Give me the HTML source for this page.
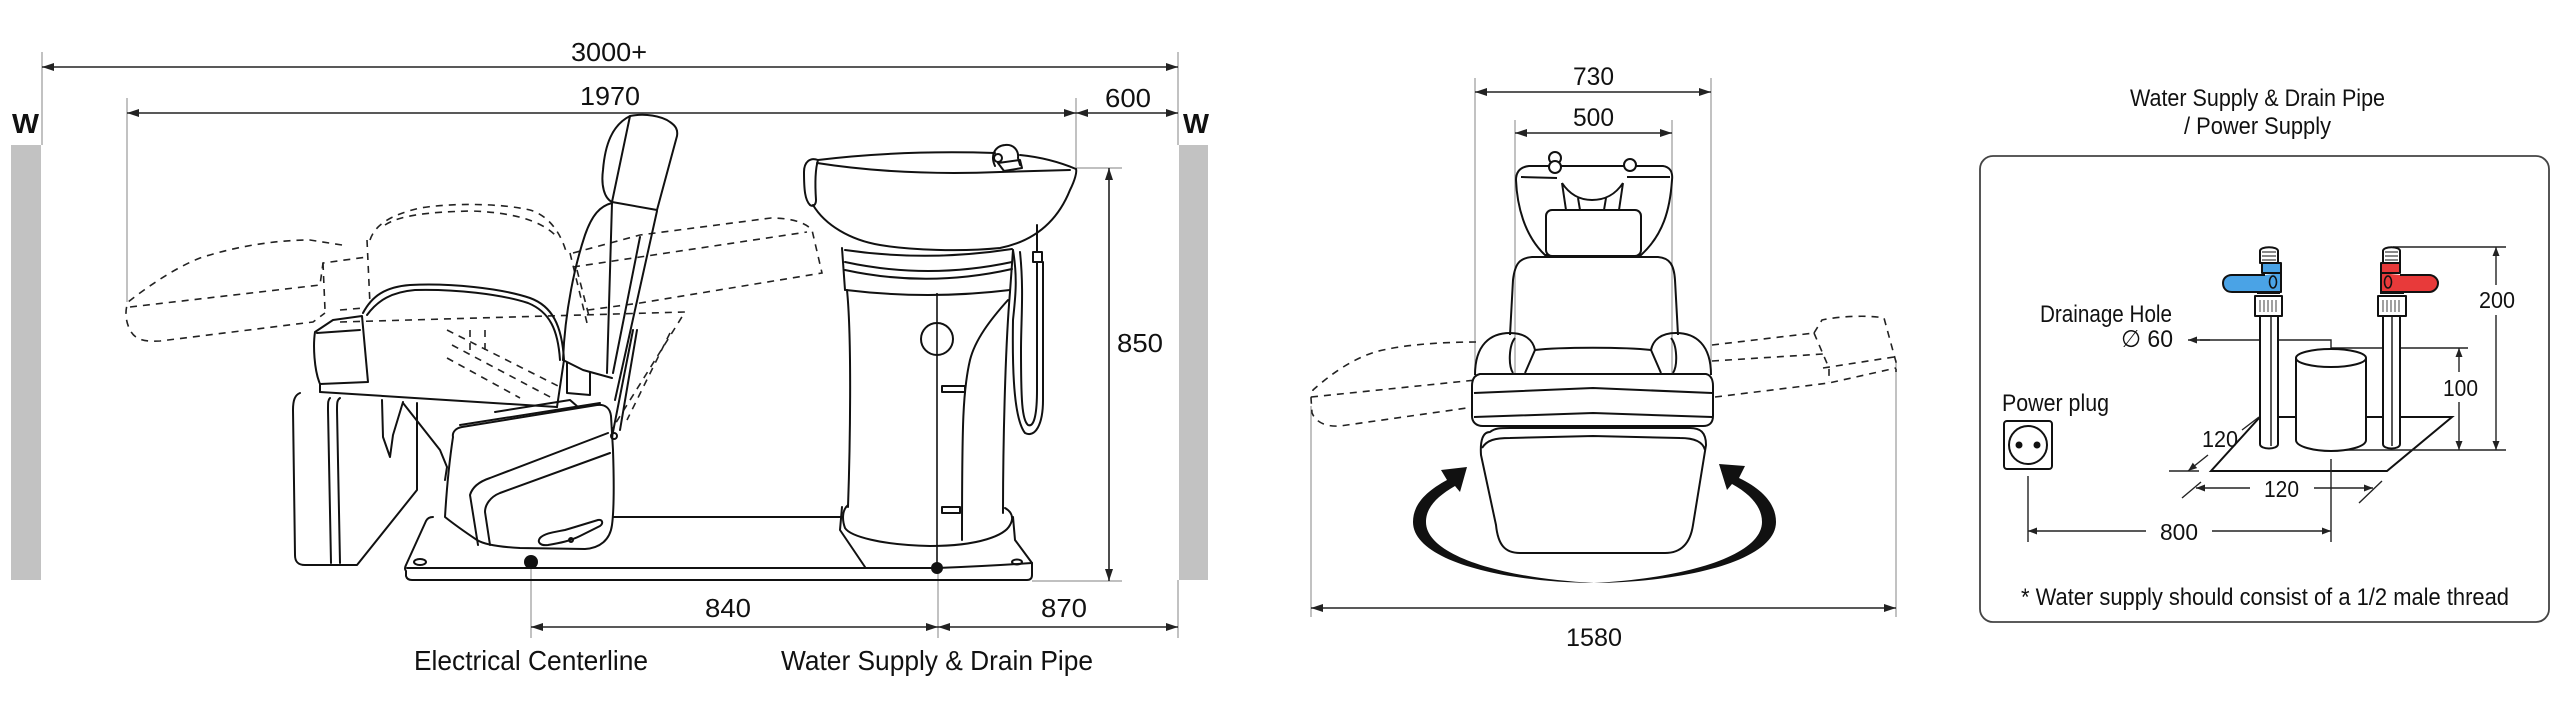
<!DOCTYPE html>
<html><head><meta charset="utf-8"><style>
html,body{margin:0;padding:0;background:#fff;}
svg{display:block;}
text{font-family:"Liberation Sans","DejaVu Sans",sans-serif;fill:#111;}
</style></head><body>
<svg width="2560" height="714" viewBox="0 0 2560 714" xmlns="http://www.w3.org/2000/svg">
<defs>
<marker id="a" viewBox="0 0 12 8" refX="12" refY="4" markerWidth="12" markerHeight="8" markerUnits="userSpaceOnUse" orient="auto-start-reverse"><path d="M0,0 L12,4 L0,8 Z" fill="#222"/></marker>
<marker id="s" viewBox="0 0 9 7" refX="9" refY="3.5" markerWidth="9" markerHeight="7" markerUnits="userSpaceOnUse" orient="auto-start-reverse"><path d="M0,0 L9,3.5 L0,7 Z" fill="#222"/></marker>
</defs>
<rect width="2560" height="714" fill="#fff"/>

<!-- ===== LEFT SIDE VIEW ===== -->
<rect x="11" y="145" width="30" height="435" fill="#c2c2c2"/>
<rect x="1179" y="145" width="29" height="435" fill="#c2c2c2"/>
<text x="12" y="133" font-size="28" font-weight="bold" textLength="27" lengthAdjust="spacingAndGlyphs">W</text>
<text x="1183" y="133" font-size="28" font-weight="bold" textLength="26" lengthAdjust="spacingAndGlyphs">W</text>

<g stroke="#9a9a9a" stroke-width="1.2" fill="none">
<path d="M42,52 V145 M1178,52 V145 M127,98 V302 M1076,98 V168 M1076,168 H1122 M1032,581 H1122 M531,562 V638 M938,568 V638 M1178,580 V638"/>
</g>
<g stroke="#222" stroke-width="1.6" fill="none">
<line x1="42" y1="67" x2="1178" y2="67" marker-start="url(#a)" marker-end="url(#a)"/>
<line x1="127" y1="113" x2="1076" y2="113" marker-start="url(#a)" marker-end="url(#a)"/>
<line x1="1076" y1="113" x2="1178" y2="113" marker-start="url(#a)" marker-end="url(#a)"/>
<line x1="1109" y1="168" x2="1109" y2="581" marker-start="url(#a)" marker-end="url(#a)"/>
<line x1="531" y1="627" x2="938" y2="627" marker-start="url(#a)" marker-end="url(#a)"/>
<line x1="938" y1="627" x2="1178" y2="627" marker-start="url(#a)" marker-end="url(#a)"/>
</g>
<text x="571" y="61" font-size="26" textLength="76" lengthAdjust="spacingAndGlyphs">3000+</text>
<text x="580" y="105" font-size="26" textLength="60" lengthAdjust="spacingAndGlyphs">1970</text>
<text x="1105" y="107" font-size="26" textLength="46" lengthAdjust="spacingAndGlyphs">600</text>
<text x="1117" y="352" font-size="26" textLength="46" lengthAdjust="spacingAndGlyphs">850</text>
<text x="705" y="617" font-size="26" textLength="46" lengthAdjust="spacingAndGlyphs">840</text>
<text x="1041" y="617" font-size="26" textLength="46" lengthAdjust="spacingAndGlyphs">870</text>
<text x="414" y="670" font-size="28" textLength="234" lengthAdjust="spacingAndGlyphs">Electrical Centerline</text>
<text x="781" y="670" font-size="28" textLength="312" lengthAdjust="spacingAndGlyphs">Water Supply &amp; Drain Pipe</text>

<!-- ghost dashed recline -->
<g stroke="#222" stroke-width="1.6" fill="none" stroke-dasharray="7,6">
<path d="M342,245 L310,240 C280,240 240,245 200,258 C175,268 150,285 128,302 C125,310 125,320 130,330 C135,340 145,342 160,341 L313,322 L325,313"/>
<path d="M130,307 L320,285 L323,263 L367,257"/>
<path d="M323,263 L325,310 M367,240 L370,305 M340,310 L363,308"/>
<path d="M370,240 C375,225 390,215 420,208 C450,203 500,203 530,210 C550,216 562,235 567,255"/>
<path d="M385,225 C400,215 430,212 470,211 C510,212 540,220 555,235"/>
<path d="M340,322 L685,312 L607,437"/>
<path d="M670,333 L627,420"/>
<path d="M447,330 L560,387 M452,345 L552,398 M447,358 L520,398 M470,330 L470,350 M485,330 L485,350"/>
<path d="M570,253 L587,323 M577,270 L590,320"/>
<path d="M573,253 L640,235 L771,218 C790,218 805,222 812,230 L822,273 L640,303 L588,310"/>
<path d="M573,267 L640,257 L807,232"/>
</g>

<g stroke="#111" stroke-width="2" fill="none" stroke-linejoin="round" stroke-linecap="round">
<!-- base plate -->
<path d="M433,517 Q428,517 426,521 L406,565 Q404,569 406,571 L406,576 Q407,580 412,580 L1027,580 Q1032,580 1032,575 L1032,563"/>
<path d="M407,568 L937,568 Q990,566 1032,563"/>
<path d="M613,517 L842,517"/>
<ellipse cx="420" cy="562" rx="6" ry="3"/>
<ellipse cx="1017" cy="562" rx="5" ry="2.5"/>
<!-- housing -->
<path d="M453,437 C452,432 456,428 462,427 L597,405 C605,404 610,408 611,416 L613,450 C614,480 614,510 612,525 C610,540 600,548 585,549 L520,548 C500,547 485,545 477,540 C465,532 455,525 445,517 C446,500 448,470 453,437 Z" fill="#fff"/>
<path d="M460,425 L600,403 M495,412 L570,400 L578,407"/>
<path d="M608,433 L490,478 C478,482 472,488 470,495 L478,545"/>
<path d="M610,453 L500,493 C490,497 485,505 485,512 L490,545"/>
<path d="M540,538 C545,533 555,532 565,530 L575,527 L598,520 C602,519 604,523 600,526 L580,536 C570,541 560,543 548,545 C540,546 537,542 540,538 Z"/>
<circle cx="571" cy="540" r="2"/>
<!-- leg rest -->
<path d="M300,393 C295,395 293,400 293,410 L295,555 C295,562 298,565 305,565 L357,565 L417,490 L417,403"/>
<path d="M330,398 C328,400 328,402 328,410 L331,563 M340,398 C337,400 337,403 337,410 L340,563"/>
<path d="M382,400 L383,437 L390,457 L393,435 L403,402 M403,403 L440,450 L447,467 L445,480"/>
<!-- seat -->
<path d="M363,313 C372,296 385,287 410,285 C450,283 500,288 530,298 C552,306 562,325 564,360 L557,407"/>
<path d="M367,315 C378,300 392,292 415,290 C455,289 500,294 528,303 C550,312 558,330 560,360"/>
<path d="M320,392 L557,407"/>
<path d="M320,392 L320,384 C314,370 313,345 315,332 L333,320 L362,316 L368,382 L320,384 M317,333 L360,330"/>
<!-- headrest/backrest -->
<path d="M612,202 C604,198 601,185 603,170 C605,145 612,125 630,116 C645,113 662,116 670,122 C676,126 678,130 677,136 L657,210 Z"/>
<path d="M630,116 L612,202"/>
<path d="M612,203 C600,206 592,215 585,235 C575,265 565,310 563,360"/>
<path d="M657,211 L615,400 M612,203 L607,373 M640,237 L613,373"/>
<path d="M563,360 L583,370 L612,378 M567,363 L567,393 L590,395 L590,372"/>
<path d="M612,437 L633,330 M620,430 L637,330"/>
<circle cx="614" cy="436" r="3"/>
<!-- pedestal basin -->
<path d="M818,160 C810,157 804,162 804,172 C804,190 805,200 810,205 C813,207 816,205 816,200 C815,185 815,170 818,160 Z"/>
<path d="M818,160 Q900,150 995,153 M1020,155 Q1050,158 1076,169"/>
<path d="M817,163 Q900,176 1000,172 L1070,170"/>
<path d="M813,205 C825,225 850,240 880,245 C910,250 960,252 1000,248 C1040,240 1060,215 1070,190 C1075,180 1077,172 1076,169"/>
<path d="M995,166 C990,155 995,146 1005,145 C1013,144 1019,150 1018,158 L1020,165 M998,163 L1020,160 L1022,168 L1004,171 Z"/>
<circle cx="998" cy="158" r="4"/>
<path d="M842,248 L845,290 M1013,250 L1010,292"/>
<path d="M845,250 Q928,262 1012,249 M845,262 Q928,280 1012,262 M845,270 Q928,288 1012,269 M846,290 Q928,300 1010,290"/>
<path d="M847,290 C852,340 850,450 848,507 M1010,292 C1005,350 1003,450 1003,513"/>
<path d="M1008,300 C990,320 975,340 970,360 C963,390 962,420 962,540"/>
<circle cx="937" cy="339" r="16"/>
<path d="M942,386 L965,386 L965,392 L942,392 Z M942,507 L960,507 L960,513 L942,513 Z"/>
<path d="M848,505 C842,510 842,520 845,528 C850,536 880,545 930,546 C980,546 1005,535 1010,525 C1014,518 1012,512 1005,508"/>
<path d="M842,507 L840,530 L865,567 M1013,517 L1015,540 L1032,563"/>
<path d="M1013,250 C1018,280 1015,300 1013,320 C1012,380 1015,420 1025,433 C1035,438 1043,425 1043,400 L1043,262"/>
<path d="M1020,252 C1024,290 1021,320 1021,350 C1021,400 1022,420 1028,425 C1035,428 1037,410 1037,390 L1037,262"/>
<path d="M1033,252 L1042,252 L1042,262 L1033,262 Z M1037,225 L1037,252"/>
</g>
<line x1="937" y1="293" x2="937" y2="568" stroke="#111" stroke-width="1.6"/>
<circle cx="937" cy="568" r="6" fill="#111"/>
<circle cx="531" cy="562" r="7" fill="#111"/>

<!-- ===== CENTER TOP VIEW ===== -->
<g stroke="#9a9a9a" stroke-width="1.2" fill="none">
<path d="M1475,78 V372 M1711,78 V372 M1515,120 V375 M1672,120 V375 M1311,406 V617 M1896,360 V617"/>
</g>
<g stroke="#222" stroke-width="1.6" fill="none">
<line x1="1475" y1="92" x2="1711" y2="92" marker-start="url(#a)" marker-end="url(#a)"/>
<line x1="1515" y1="133" x2="1672" y2="133" marker-start="url(#a)" marker-end="url(#a)"/>
<line x1="1311" y1="608" x2="1896" y2="608" marker-start="url(#a)" marker-end="url(#a)"/>
</g>
<text x="1573" y="85" font-size="25" textLength="41" lengthAdjust="spacingAndGlyphs">730</text>
<text x="1573" y="126" font-size="25" textLength="41" lengthAdjust="spacingAndGlyphs">500</text>
<text x="1566" y="646" font-size="25" textLength="56" lengthAdjust="spacingAndGlyphs">1580</text>

<g stroke="#222" stroke-width="1.6" fill="none" stroke-dasharray="7,6">
<path d="M1476,342 C1440,342 1400,345 1375,352 C1350,360 1330,375 1313,390 L1311,398 L1312,413 C1316,422 1325,427 1340,426 L1474,407"/>
<path d="M1311,397 L1476,380"/>
<path d="M1712,345 L1814,333 M1814,333 L1822,320 C1840,316 1870,315 1884,318 L1896,362 L1896,372 M1814,333 L1829,368 L1829,382 M1712,361 L1823,354 M1823,368 L1894,357 M1715,397 L1829,383 L1896,368"/>
</g>
<g stroke="#111" stroke-width="2" fill="none" stroke-linejoin="round">
<path d="M1529,166 L1663,166 C1670,167 1673,172 1672,180 C1670,210 1663,235 1641,255 L1545,255 C1524,235 1517,205 1516,180 C1516,172 1520,167 1529,166 Z" fill="#fff"/>
<path d="M1521,177 L1557,178 M1627,177 L1670,177"/>
<path d="M1562,183 C1570,195 1580,200 1592,200 C1605,200 1615,195 1623,183 M1562,183 L1566,210 M1623,183 L1619,210 M1578,198 L1580,210 M1606,198 L1604,210"/>
<circle cx="1555" cy="158" r="6" fill="#fff"/><circle cx="1555" cy="167" r="6" fill="#fff"/>
<circle cx="1630" cy="165" r="6" fill="#fff"/>
<rect x="1546" y="210" width="95" height="46" rx="6" fill="#fff"/>
<path d="M1510,335 L1513,280 C1515,263 1520,258 1532,257 L1658,257 C1670,258 1674,265 1675,280 L1678,335"/>
<path d="M1475,375 C1475,345 1490,333 1510,333 C1525,333 1533,340 1535,350 L1525,373 M1515,338 C1509,345 1508,365 1513,373"/>
<path d="M1711,375 C1711,345 1696,333 1676,333 C1661,333 1653,340 1651,350 L1661,373 M1671,338 C1677,345 1678,365 1673,373"/>
<path d="M1535,350 C1560,347 1625,347 1651,350"/>
<path d="M1480,374 L1706,374 C1711,375 1713,380 1713,386 L1713,416 C1713,423 1709,426 1703,426 L1483,426 C1476,426 1472,422 1472,416 L1472,386 C1472,379 1475,375 1480,374 Z" fill="#fff"/>
<path d="M1474,393 L1593,388 L1712,393 M1474,417 L1593,413 L1712,417"/>
<path d="M1490,432 C1495,428 1500,428 1510,428 L1690,428 C1700,428 1706,432 1706,445 L1693,525 C1690,545 1680,553 1665,553 L1520,553 C1505,553 1498,545 1496,525 L1481,455 C1480,440 1483,432 1490,432 Z" fill="#fff"/>
<path d="M1482,448 C1487,440 1495,438 1510,438 L1593,436 L1680,438 C1695,438 1703,442 1705,450"/>
</g>
<!-- rotation arrows -->
<path d="M1594,583 C1500,582 1413,560 1413,522 C1413,505 1425,492 1447,480 L1441,470 L1467,467 L1460,492 L1455,486 C1436,497 1426,508 1426,522 C1426,555 1500,578 1594,583 Z" fill="#111"/>
<path d="M1594,583 C1688,582 1776,560 1776,522 C1776,505 1764,490 1739,478 L1745,466 L1719,464 L1727,490 L1732,484 C1752,495 1762,508 1762,522 C1762,555 1688,578 1594,583 Z" fill="#111"/>

<!-- ===== RIGHT BOX ===== -->
<text x="2130" y="106" font-size="24" textLength="255" lengthAdjust="spacingAndGlyphs">Water Supply &amp; Drain Pipe</text>
<text x="2184" y="134" font-size="24" textLength="147" lengthAdjust="spacingAndGlyphs">/ Power Supply</text>
<rect x="1980" y="156" width="569" height="466" rx="13" fill="none" stroke="#444" stroke-width="1.8"/>

<!-- floor -->
<path d="M2260,417 L2452,417 L2387,471 L2211,471 Z" fill="none" stroke="#111" stroke-width="2"/>
<!-- dims lines -->
<g stroke="#222" stroke-width="1.4" fill="none">
<path d="M2393,247 H2506 M2331,348 H2468 M2343,450 H2506 M2169,471 H2199"/>
<path d="M2331,459 V542 M2028,476 V542"/>
<path d="M2182,498 L2201,482 M2359,503 L2382,481 M2259,417 L2242,430"/>
<line x1="2496" y1="285" x2="2496" y2="247" marker-end="url(#s)"/>
<line x1="2496" y1="315" x2="2496" y2="450" marker-end="url(#s)"/>
<line x1="2459" y1="372" x2="2459" y2="348" marker-end="url(#s)"/>
<line x1="2459" y1="402" x2="2459" y2="450" marker-end="url(#s)"/>
<line x1="2208" y1="455" x2="2188" y2="471" marker-end="url(#s)"/>
<line x1="2250" y1="488" x2="2196" y2="488" marker-end="url(#s)"/>
<line x1="2314" y1="488" x2="2373" y2="488" marker-end="url(#s)"/>
<line x1="2146" y1="531" x2="2028" y2="531" marker-end="url(#s)"/>
<line x1="2212" y1="531" x2="2331" y2="531" marker-end="url(#s)"/>
<path d="M2331,363 V340 H2200"/>
<line x1="2210" y1="340" x2="2188" y2="340" marker-end="url(#s)"/>
</g>
<g stroke="#111" stroke-width="2" stroke-linejoin="round">
<!-- cylinder -->
<path d="M2296,358 L2296,440 C2296,447 2315,451 2331,451 C2347,451 2366,447 2366,440 L2366,358" fill="#fff"/>
<ellipse cx="2331" cy="358" rx="35" ry="9" fill="#fff"/>
<!-- left pipe -->
<path d="M2260,317 L2260,444 C2260,450 2278,450 2278,444 L2278,317" fill="#fff"/>
<path d="M2271,317 L2271,446" fill="none" stroke-width="1.4"/>
<path d="M2260,263 L2260,251 C2260,246 2278,246 2278,251 L2278,263 Z" fill="#fff"/>
<path d="M2262,252 H2276 M2262,256 H2276 M2262,260 H2276" stroke-width="1"/>
<path d="M2265,275 L2232,275 C2226,275 2223,279 2223,283 C2223,288 2226,292 2232,292 L2265,292 L2281,292 L2281,273 L2262,273 L2262,263 L2281,263 L2281,273" fill="#4aa3e6"/>
<ellipse cx="2273" cy="282" rx="3.5" ry="6" fill="none" stroke-width="1.6"/>
<path d="M2255,296 L2282,296 L2282,316 L2255,316 Z M2257,293 L2280,293" fill="#fff"/>
<path d="M2260,300 V312 M2264,300 V312 M2268,300 V312 M2272,300 V312 M2276,300 V312" stroke-width="0.8"/>
<!-- right pipe -->
<path d="M2383,317 L2383,444 C2383,450 2400,450 2400,444 L2400,317" fill="#fff"/>
<path d="M2392,317 L2392,446" fill="none" stroke-width="1.4"/>
<path d="M2383,263 L2383,251 C2383,246 2400,246 2400,251 L2400,263 Z" fill="#fff"/>
<path d="M2385,252 H2398 M2385,256 H2398 M2385,260 H2398" stroke-width="1"/>
<path d="M2400,275 L2429,275 C2434,275 2438,279 2438,283 C2438,288 2434,292 2429,292 L2400,292 L2381,292 L2381,273 L2400,273 L2400,263 L2381,263 L2381,273" fill="#e83a3a"/>
<ellipse cx="2388" cy="282" rx="3.5" ry="6" fill="none" stroke-width="1.6"/>
<path d="M2378,296 L2406,296 L2406,316 L2378,316 Z M2380,293 L2404,293" fill="#fff"/>
<path d="M2383,300 V312 M2387,300 V312 M2391,300 V312 M2395,300 V312 M2399,300 V312" stroke-width="0.8"/>
<!-- plug -->
<rect x="2004" y="421" width="48" height="48" rx="3" fill="#fff"/>
<circle cx="2028" cy="445" r="19" fill="#fff"/>
</g>
<circle cx="2019" cy="445" r="3.5" fill="#111"/>
<circle cx="2037" cy="445" r="3.5" fill="#111"/>

<text x="2040" y="322" font-size="24" textLength="132" lengthAdjust="spacingAndGlyphs">Drainage Hole</text>
<text x="2121" y="347" font-size="24" textLength="52" lengthAdjust="spacingAndGlyphs">∅ 60</text>
<text x="2479" y="308" font-size="23" textLength="36" lengthAdjust="spacingAndGlyphs">200</text>
<text x="2443" y="396" font-size="23" textLength="35" lengthAdjust="spacingAndGlyphs">100</text>
<text x="2202" y="447" font-size="23" textLength="36" lengthAdjust="spacingAndGlyphs">120</text>
<text x="2264" y="497" font-size="23" textLength="35" lengthAdjust="spacingAndGlyphs">120</text>
<text x="2160" y="540" font-size="23" textLength="38" lengthAdjust="spacingAndGlyphs">800</text>
<text x="2002" y="411" font-size="24" textLength="107" lengthAdjust="spacingAndGlyphs">Power plug</text>
<text x="2021" y="605" font-size="24" textLength="488" lengthAdjust="spacingAndGlyphs">* Water supply should consist of a 1/2 male thread</text>
</svg>
</body></html>
